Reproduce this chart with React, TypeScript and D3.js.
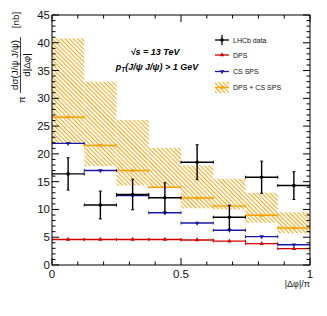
import React from "react";
import * as d3 from "d3";

const WIDTH = 327;
const HEIGHT = 316;
const M = { left: 52, top: 15, right: 17, bottom: 51 };

// |dphi|/pi bin edges
const BIN_EDGES = [0, 0.125, 0.25, 0.375, 0.5, 0.625, 0.75, 0.875, 1];

const LHCB = [16.4, 10.8, 12.7, 12.1, 18.5, 8.6, 15.8, 14.3];
const LHCB_ERR = [2.9, 2.5, 2.75, 2.7, 3.15, 2.15, 2.9, 2.5];
const DPS = [4.6, 4.6, 4.6, 4.6, 4.5, 4.3, 3.85, 2.95];
const CS_SPS = [21.9, 17.0, 12.5, 9.4, 7.55, 6.25, 5.1, 3.65];
const SUM = [26.6, 21.5, 17.0, 14.0, 12.05, 10.6, 8.95, 6.65];
const SUM_LO = [22.0, 17.8, 14.3, 13.9, 10.2, 10.0, 7.6, 5.7];
const SUM_HI = [40.8, 33.0, 26.1, 21.1, 17.9, 15.5, 13.0, 9.5];

const Y_MAJOR = [0, 5, 10, 15, 20, 25, 30, 35, 40, 45];
const X_MAJOR = [0, 0.5, 1];
const X_LABELS = ["0", "0.5", "1"];

const LEGEND = [
  { key: "data", label: "LHCb data" },
  { key: "dps", label: "DPS" },
  { key: "cs", label: "CS SPS" },
  { key: "sum", label: "DPS + CS SPS" },
];

const ORANGE = "#ff9f00";
const RED = "#d00000";
const BLUE = "#1a1aa6";
const FONT = "'Liberation Sans', Arial, sans-serif";

export default function App() {
  const x = d3.scaleLinear().domain([0, 1]).range([M.left, WIDTH - M.right]);
  const y = d3.scaleLinear().domain([0, 45]).range([HEIGHT - M.bottom, M.top]);
  const [x0, x1] = x.range();
  const [y0, y1] = y.range();

  const bins = LHCB.map((_, i) => ({
    lo: BIN_EDGES[i],
    hi: BIN_EDGES[i + 1],
    mid: (BIN_EDGES[i] + BIN_EDGES[i + 1]) / 2,
  }));

  const yMinor = d3.range(0, 46, 1).filter((v) => v % 5 !== 0);
  const xMinor = d3.range(0, 1.001, 0.1).map((v) => +v.toFixed(2)).filter((v) => !X_MAJOR.includes(v));

  // horizontal step segments with small end ticks
  const stepLines = (vals: number[], color: string, key: string) =>
    bins.map((b, i) => (
      <g key={key + i} stroke={color} strokeWidth={1.4}>
        <line x1={x(b.lo)} x2={x(b.hi)} y1={y(vals[i])} y2={y(vals[i])} />
        <line x1={x(b.lo)} x2={x(b.lo)} y1={y(vals[i]) - 1.5} y2={y(vals[i]) + 1.5} strokeWidth={1} />
        <line x1={x(b.hi)} x2={x(b.hi)} y1={y(vals[i]) - 1.5} y2={y(vals[i]) + 1.5} strokeWidth={1} />
      </g>
    ));

  const triUp = d3.symbol(d3.symbolTriangle, 9)() as string;
  const legX = 215;
  const legRows = [40, 55, 71.5, 87.5];

  return (
    <svg width={WIDTH} height={HEIGHT} style={{ position: "absolute", left: 0, top: 0, background: "#fff" }} fontFamily={FONT}>
      <defs>
        <pattern id="hatch" width={3} height={3} patternUnits="userSpaceOnUse" patternTransform="rotate(-45)">
          <line x1={0} y1={0} x2={0} y2={3} stroke={ORANGE} strokeWidth={1.9} />
        </pattern>
        <clipPath id="plotClip">
          <rect x={x0} y={y1} width={x1 - x0} height={y0 - y1} />
        </clipPath>
      </defs>

      {/* theory band */}
      <g clipPath="url(#plotClip)">
        {bins.map((b, i) => (
          <rect
            key={"band" + i}
            x={x(b.lo)}
            width={x(b.hi) - x(b.lo)}
            y={y(SUM_HI[i])}
            height={y(SUM_LO[i]) - y(SUM_HI[i])}
            fill="url(#hatch)"
          />
        ))}
        {stepLines(SUM, ORANGE, "sum")}
        {bins.map((b, i) => (
          <rect key={"sm" + i} x={x(b.mid) - 1.5} y={y(SUM[i]) - 1.5} width={3} height={3} fill={ORANGE} />
        ))}
        {stepLines(DPS, RED, "dps")}
        {bins.map((b, i) => (
          <path key={"dm" + i} d={triUp} transform={`translate(${x(b.mid)},${y(DPS[i])})`} fill={RED} />
        ))}
        {stepLines(CS_SPS, BLUE, "cs")}
        {bins.map((b, i) => (
          <path key={"cm" + i} d={triUp} transform={`translate(${x(b.mid)},${y(CS_SPS[i])}) rotate(180)`} fill={BLUE} />
        ))}

        {/* LHCb data */}
        {bins.map((b, i) => {
          const cy = y(LHCB[i]);
          const cx = x(b.mid);
          const top = y(LHCB[i] + LHCB_ERR[i]);
          const bot = y(LHCB[i] - LHCB_ERR[i]);
          return (
            <g key={"d" + i} stroke="#000" strokeWidth={1.4}>
              <line x1={x(b.lo)} x2={x(b.hi)} y1={cy} y2={cy} />
              <line x1={x(b.lo)} x2={x(b.lo)} y1={cy - 1.5} y2={cy + 1.5} strokeWidth={1} />
              <line x1={x(b.hi)} x2={x(b.hi)} y1={cy - 1.5} y2={cy + 1.5} strokeWidth={1} />
              <line x1={cx} x2={cx} y1={top} y2={bot} />
              <line x1={cx - 1.5} x2={cx + 1.5} y1={top} y2={top} strokeWidth={1} />
              <line x1={cx - 1.5} x2={cx + 1.5} y1={bot} y2={bot} strokeWidth={1} />
              <circle cx={cx} cy={cy} r={1.8} fill="#000" stroke="none" />
            </g>
          );
        })}
      </g>

      {/* frame and ticks */}
      <rect x={x0} y={y1} width={x1 - x0} height={y0 - y1} fill="none" stroke="#000" strokeWidth={1} />
      <g stroke="#000" strokeWidth={1}>
        {Y_MAJOR.map((v) => (
          <g key={"ym" + v}>
            <line x1={x0} x2={x0 + 7} y1={y(v)} y2={y(v)} />
            <line x1={x1} x2={x1 - 7} y1={y(v)} y2={y(v)} />
          </g>
        ))}
        {yMinor.map((v) => (
          <g key={"yn" + v}>
            <line x1={x0} x2={x0 + 3.5} y1={y(v)} y2={y(v)} />
            <line x1={x1} x2={x1 - 3.5} y1={y(v)} y2={y(v)} />
          </g>
        ))}
        {X_MAJOR.map((v) => (
          <g key={"xm" + v}>
            <line x1={x(v)} x2={x(v)} y1={y0} y2={y0 - 7} />
            <line x1={x(v)} x2={x(v)} y1={y1} y2={y1 + 7} />
          </g>
        ))}
        {xMinor.map((v) => (
          <g key={"xn" + v}>
            <line x1={x(v)} x2={x(v)} y1={y0} y2={y0 - 3.5} />
            <line x1={x(v)} x2={x(v)} y1={y1} y2={y1 + 3.5} />
          </g>
        ))}
      </g>

      {/* tick labels */}
      <g fontSize={11.5} fill="#111">
        {Y_MAJOR.map((v) => (
          <text key={"yl" + v} x={x0 - 2} y={y(v)} textAnchor="end" dominantBaseline="central">
            {v}
          </text>
        ))}
        {X_MAJOR.map((v, i) => (
          <text key={"xl" + v} x={x(v)} y={y0 + 9} textAnchor="middle" dominantBaseline="central">
            {X_LABELS[i]}
          </text>
        ))}
      </g>

      {/* axis titles */}
      <text x={x1} y={y0 + 22} textAnchor="end" fontSize={9} fill="#111">
        |Δφ|/π
      </text>
      <g fill="#111" fontSize={9.8}>
        <text transform="translate(14,65) rotate(-90)" textAnchor="middle" dominantBaseline="central">
          dσ(J/ψ J/ψ)
        </text>
        <line x1={20.5} x2={20.5} y1={37} y2={93} stroke="#111" strokeWidth={0.8} />
        <text transform="translate(26.5,65) rotate(-90)" textAnchor="middle" dominantBaseline="central">
          d|Δφ|
        </text>
        <text transform="translate(21,99.5) rotate(-90)" textAnchor="middle" dominantBaseline="central">
          π
        </text>
        <text transform="translate(15,20) rotate(-90)" textAnchor="middle" dominantBaseline="central">
          [nb]
        </text>
      </g>

      {/* annotation */}
      <g fontSize={9} fontWeight="bold" fontStyle="italic" fill="#000">
        <text x={155} y={52} textAnchor="middle" dominantBaseline="central">
          √s = 13 TeV
        </text>
        <text x={157} y={67} textAnchor="middle" dominantBaseline="central">
          p<tspan fontSize={6.5} dy={2}>T</tspan>
          <tspan dy={-2}>(J/ψ J/ψ) &gt; 1 GeV</tspan>
        </text>
      </g>

      {/* legend */}
      <g fontSize={7} fill="#111">
        {LEGEND.map((l, i) => {
          const ly = legRows[i];
          let marker: React.ReactNode = null;
          if (l.key === "data") {
            marker = (
              <g stroke="#000" strokeWidth={1.3}>
                <line x1={legX} x2={legX + 14} y1={ly} y2={ly} />
                <line x1={legX + 7} x2={legX + 7} y1={ly - 5} y2={ly + 5} />
                <circle cx={legX + 7} cy={ly} r={1.8} fill="#000" stroke="none" />
              </g>
            );
          } else if (l.key === "dps") {
            marker = (
              <g>
                <line x1={legX} x2={legX + 14} y1={ly} y2={ly} stroke={RED} strokeWidth={1.3} />
                <path d={triUp} transform={`translate(${legX + 7},${ly})`} fill={RED} />
              </g>
            );
          } else if (l.key === "cs") {
            marker = (
              <g>
                <line x1={legX} x2={legX + 14} y1={ly} y2={ly} stroke={BLUE} strokeWidth={1.3} />
                <path d={triUp} transform={`translate(${legX + 7},${ly}) rotate(180)`} fill={BLUE} />
              </g>
            );
          } else {
            marker = (
              <g>
                <rect x={legX} y={ly - 5.5} width={14} height={11} fill="url(#hatch)" />
                <line x1={legX} x2={legX + 14} y1={ly} y2={ly} stroke={ORANGE} strokeWidth={1.3} />
                <rect x={legX + 5.5} y={ly - 1.5} width={3} height={3} fill={ORANGE} />
              </g>
            );
          }
          return (
            <g key={l.key}>
              {marker}
              <text x={legX + 18} y={ly} dominantBaseline="central">
                {l.label}
              </text>
            </g>
          );
        })}
      </g>
    </svg>
  );
}
